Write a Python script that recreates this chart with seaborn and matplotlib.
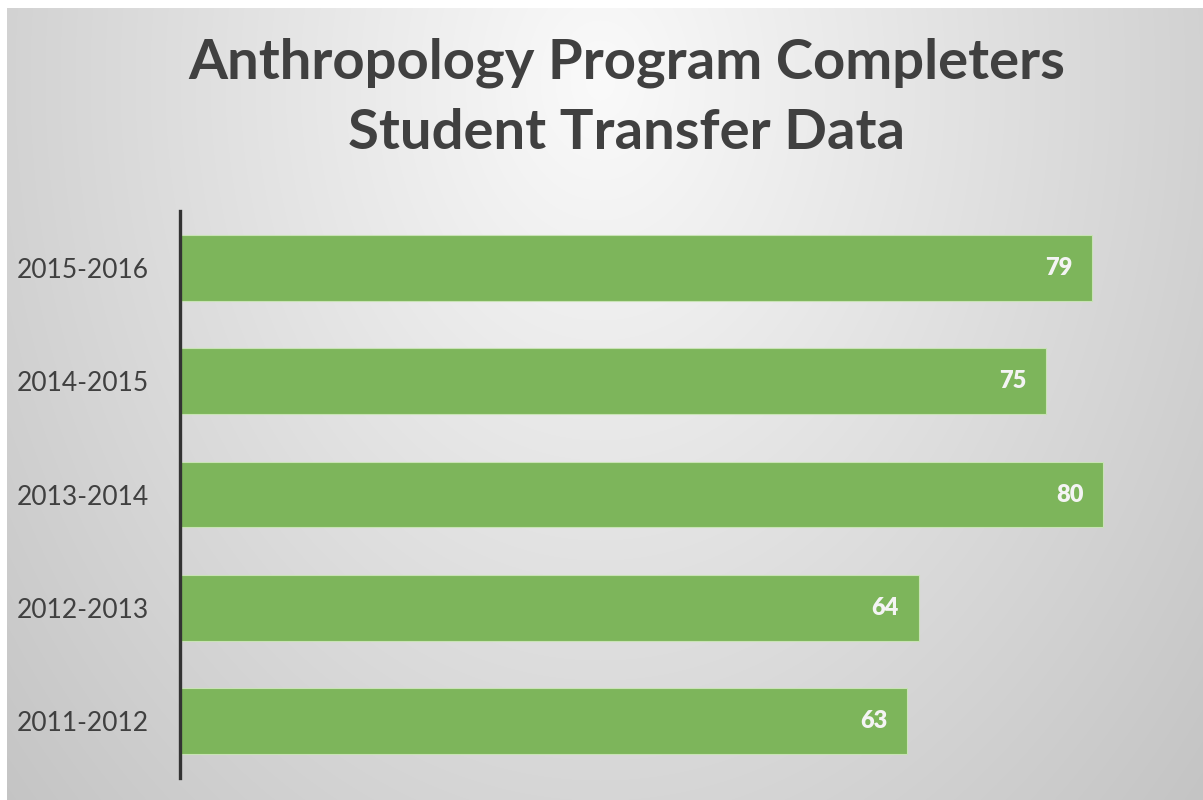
import numpy as np
import pandas as pd
import matplotlib
matplotlib.use("Agg")
import matplotlib.pyplot as plt
import seaborn as sns

# ---- data ----
categories = ["2015-2016", "2014-2015", "2013-2014", "2012-2013", "2011-2012"]
values = [79, 75, 80, 64, 63]
title_lines = ["Anthropology Program Completers", "Student Transfer Data"]

df = pd.DataFrame({"year": categories, "completers": values})

sns.set_theme(style="white")
plt.rcParams["font.family"] = ["Lato", "DejaVu Sans"]

W, H = 1203, 800
fig = plt.figure(figsize=(W / 100, H / 100), dpi=100)
fig.patch.set_facecolor("white")

# background gradient (light at top centre, grey towards corners)
bg = fig.add_axes([7 / W, 0, 1 - 7 / W, (H - 8) / H], zorder=-5)
yy, xx = np.mgrid[0:792, 0:1196]
r = np.sqrt(((xx + 7 - 600) / 600.0) ** 2 + ((yy + 8 - 80) / 800.0) ** 2)
val = np.clip(250 - 40 * r, 190, 250) / 255.0
bg.imshow(np.dstack([val, val, val]), aspect="auto", extent=[0, 1, 0, 1], origin="upper")
bg.set_axis_off()

# main axes
left, right = 180 / W, 1190 / W
bottom, top = (H - 778) / H, (H - 211) / H
ax = fig.add_axes([left, bottom, right - left, top - bottom])
ax.set_facecolor("none")

sns.barplot(data=df, x="completers", y="year", order=categories, orient="h",
            color="#7db55b", saturation=1, width=0.58, ax=ax,
            edgecolor="#c9e3b6", linewidth=0.8)

ax.set_xlim(0, 87.5)
ax.set_ylim(4.5, -0.5)
ax.set_xlabel("")
ax.set_ylabel("")
ax.set_xticks([])
for s in ["top", "right", "bottom"]:
    ax.spines[s].set_visible(False)
ax.spines["left"].set_color("#333333")
ax.spines["left"].set_linewidth(2.4)
ax.tick_params(axis="y", length=0, pad=22.5, labelsize=19, labelcolor="#404040")

for i, v in enumerate(values):
    ax.text(v - 1.7, i, str(v), ha="right", va="center", fontsize=17,
            fontweight="heavy", color="#f4f4f4")

fig.text(627 / W, 1 - 63 / H, title_lines[0], ha="center", va="center",
         fontsize=40.5, fontweight="bold", color="#404040")
fig.text(627 / W, 1 - 133 / H, title_lines[1], ha="center", va="center",
         fontsize=40.5, fontweight="bold", color="#404040")

fig.savefig("out.png", dpi=100)
